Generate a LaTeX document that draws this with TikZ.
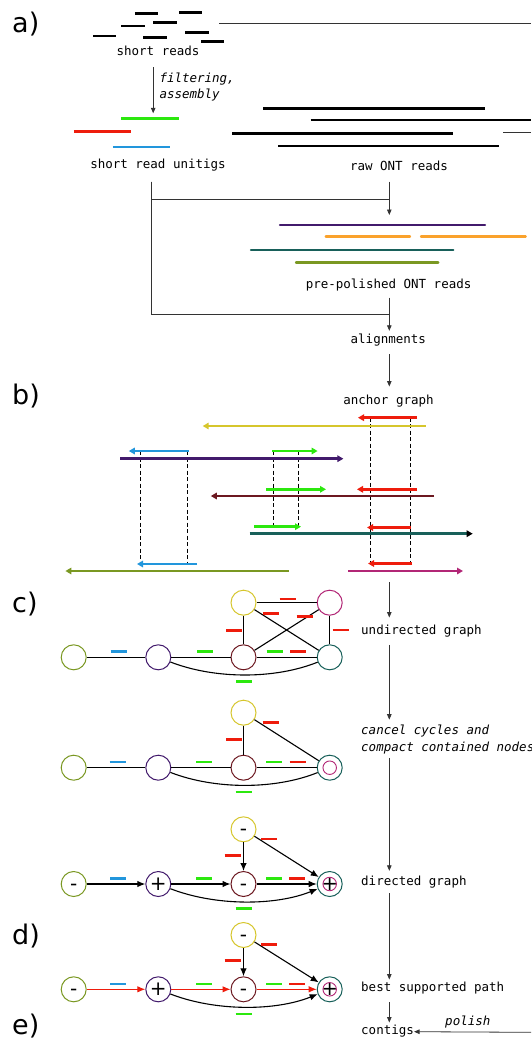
\documentclass[tikz,border=0pt]{standalone}
\usepackage{fontspec}
\setmainfont{DejaVu Sans}
\newfontfamily\monof{DejaVu Sans Mono}
\usetikzlibrary{arrows.meta,calc}
\definecolor{cred}{RGB}{238,28,12}
\definecolor{cgreen}{RGB}{44,232,14}
\definecolor{cblue}{RGB}{34,150,220}
\definecolor{cyellow}{RGB}{214,198,44}
\definecolor{cpurple}{RGB}{66,26,108}
\definecolor{cmaroon}{RGB}{108,24,32}
\definecolor{cteal}{RGB}{24,96,90}
\definecolor{colive}{RGB}{122,152,34}
\definecolor{cmagenta}{RGB}{178,38,118}
\definecolor{corange}{RGB}{250,162,44}
\newcommand{\gmark}[3]{\draw[mk,#1] (#2,#3) ++(-8,0) -- ++(16,0);}
\begin{document}
\begin{tikzpicture}[x=1pt,y=-1pt,
  lbl/.style={font=\monof\fontsize{12.5}{16.7}\selectfont, inner xsep=0pt, inner ysep=3pt, text height=9pt, text depth=3pt},
  ilbl/.style={lbl, font=\monof\itshape\fontsize{12.5}{16.7}\selectfont},
  mlbl/.style={font=\monof\itshape\fontsize{12.5}{16.7}\selectfont, inner xsep=0pt, inner ysep=3pt, align=left},
  panel/.style={font=\fontsize{27}{30}\selectfont, inner sep=0pt, anchor=base west},
  flow/.style={draw=black!80, line width=0.8pt, -{Triangle[length=5.5pt,width=4.5pt]}},
  link/.style={draw=black!80, line width=0.8pt},
  sread/.style={line width=2.7pt},
  pread/.style={line width=2.3pt, line cap=round},
  aread/.style={line width=2.6pt, -{Triangle[length=6pt,width=6.5pt]}},
  guide/.style={draw=black, line width=1pt, dash pattern=on 4pt off 2.5pt},
  gn/.style={circle, draw, line width=1pt, minimum size=25pt, inner sep=0pt, font=\fontsize{20}{20}\selectfont, text height=12pt, text depth=0pt},
  inn/.style={circle, draw=cmagenta, line width=0.9pt, minimum size=13.5pt, inner sep=0pt},
  edge/.style={draw=black, line width=1.1pt},
  dedge/.style={edge, -{Latex[length=8pt,width=6.5pt]}},
  pedge/.style={draw=cred, line width=1pt, -{Latex[length=8pt,width=6.5pt]}},
  mk/.style={line width=2.6pt}
]
\useasboundingbox (0,0) rectangle (531,1041);
\fill[white] (0,0) rectangle (531,1041);

% panel labels
\node[panel] (pa) at (12,33) {a)};
\node[panel] (pb) at (12,404) {b)};
\node[panel] (pc) at (12,612) {c)};
\node[panel] (pd) at (12,944) {d)};
\node[panel] (pe) at (12,1034.5) {e)};

% ---------- a) short reads
\draw[sread] (134.9,13.3) -- (158.3,13.3);
\draw[sread] (179,12.7) -- (202.4,12.7);
\draw[sread] (121.4,26) -- (144.7,26);
\draw[sread] (153.2,22.7) -- (177,22.7);
\draw[sread] (93.2,36) -- (116.3,36);
\draw[sread] (143.4,37.3) -- (167.1,37.3);
\draw[sread] (185.4,32.7) -- (208.5,32.7);
\draw[sread] (201.4,41.7) -- (224.4,41.7);
\node[lbl] (sr) at (158,52.7) {short reads};
\coordinate (srR) at (219,23.7);
\coordinate (edgeA) at (531,23.7);
\draw[link] (srR) -- (edgeA);

% unitigs
\draw[sread, cgreen] (121.4,118.3) -- (179,118.3);
\draw[sread, cred] (73.9,131.7) -- (131.2,131.7);
\draw[sread, cblue] (112.9,147) -- (170.2,147);
\node[lbl] (sru) at (158,165.7) {short read unitigs};
\coordinate (utop) at (153.2,113.3);
\draw[flow, shorten <=5.6pt] (sr.south -| utop) -- (utop);
\node[mlbl, anchor=west] (filt) at (159.3,87) {filtering,\\assembly};

% raw ONT reads
\draw[sread] (263,108.3) -- (485,108.3);
\draw[sread] (310.7,120) -- (531,120);
\draw[sread] (232.3,133.3) -- (453.3,133.3);
\draw[sread] (278,146) -- (499,146);
\coordinate (ontR) at (503,132.7);
\coordinate (edgeB) at (531,132.7);
\draw[link] (ontR) -- (edgeB);
\node[lbl] (raw) at (399,167.7) {raw ONT reads};

% bracket and flow
\coordinate (col) at (389.3,0);
\coordinate (bl) at (151.5,0);
\coordinate (j1) at (389.3,199.3);
\coordinate (j2) at (389.3,314);
\coordinate (pptop) at (389.3,215);
\draw[link, shorten <=6.6pt] (sru.south -| bl) |- (j1);
\draw[link, shorten <=6.6pt] (sru.south -| bl) |- (j2);
\draw[flow, shorten <=4.6pt] (raw.south -| col) -- (pptop);

% pre-polished reads
\draw[pread, cpurple] (280,224.7) -- (485,224.7);
\draw[pread, corange] (325.7,236.5) -- (410,236.5);
\draw[pread, corange] (421,236.5) -- (525.7,236.5);
\draw[pread, cteal] (251,250.3) -- (453.3,250.3);
\draw[pread, colive] (296,262.5) -- (438.3,262.5);
\node[lbl] (prep) at (388.6,285) {pre-polished ONT reads};
\node[lbl] (align) at (388.3,340) {alignments};
\draw[flow, shorten <=3.3pt] (prep.south -| col) -- (align.north -| col);

% ---------- b) anchor graph
\node[lbl] (anch) at (388.5,401.7) {anchor graph};
\draw[flow, shorten <=5pt, shorten >=6pt] (align.south -| col) -- (anch.north -| col);

\draw[guide] (140.3,451) -- (140.3,564);
\draw[guide] (187.8,451) -- (187.8,564);
\draw[guide] (273,451) -- (273,526.7);
\draw[guide] (298,451) -- (298,526.7);
\draw[guide] (370,417.7) -- (370,563.5);
\draw[guide] (410,417.7) -- (410,563.5);

\draw[aread, cred] (417,417.7) -- (358,417.7);
\draw[aread, cyellow] (425.8,426) -- (202.7,426);
\draw[aread, cblue] (188.5,451) -- (128.8,451);
\draw[aread, cgreen] (272,451) -- (317.6,451);
\draw[aread, cpurple] (120,458.7) -- (343.4,458.7);
\draw[aread, cgreen] (266.4,489.3) -- (326,489.3);
\draw[aread, cred] (417,489.3) -- (357,489.3);
\draw[aread, cmaroon] (434,496) -- (210.8,496);
\draw[aread, cgreen] (254,526.7) -- (301,526.7);
\draw[aread, cred] (411,527.5) -- (367,527.5);
\draw[line width=2.6pt, cteal, -{Triangle[length=6pt,width=6.5pt,color=black]}] (249.5,533.7) -- (472.7,533.7);
\draw[aread, cblue] (197,564) -- (137,564);
\draw[aread, cred] (412,563.5) -- (368,563.5);
\draw[aread, colive] (288.5,571) -- (65.4,571);
\draw[aread, cmagenta] (348,571) -- (463,571);

% ---------- c) right column labels
\coordinate (agb) at (389.3,582);
\node[lbl, anchor=west] (und) at (361,631) {undirected graph};
\draw[flow, shorten >=4.3pt] (agb) -- (und.north -| col);
\node[mlbl, anchor=west] (canc) at (361,739.3) {cancel cycles and\\compact contained nodes};
\draw[flow, shorten <=4.7pt, shorten >=2pt] (und.south -| col) -- (canc.north -| col);
\node[lbl, anchor=west] (dirg) at (361,882.3) {directed graph};
\draw[flow, shorten <=1pt, shorten >=2.3pt] (canc.south -| col) -- (dirg.north -| col);
\node[lbl, anchor=west] (best) at (361,988.7) {best supported path};
\draw[flow, shorten <=1.7pt] (dirg.south -| col) -- (best.north -| col);
\node[lbl, anchor=west] (cont) at (361,1031.7) {contigs};
\draw[flow, shorten <=4.3pt] (best.south -| col) -- (cont.north -| col);
\node[ilbl] (pol) at (467.8,1022.3) {polish};
\coordinate (polR) at (531,1032.3);
\draw[flow] (polR) -- (cont.east);

% ---------- undirected graph
\begin{scope}[shift={(0,657.3)}]
\node[gn, draw=colive] (u-o) at (73.7,0) {};
\node[gn, draw=cpurple] (u-p) at (158.3,0) {};
\node[gn, draw=cmaroon] (u-m) at (243.5,0) {};
\node[gn, draw=cteal] (u-t) at (329.7,0) {};
\node[gn, draw=cyellow] (u-y) at (243.5,-54.6) {};
\node[gn, draw=cmagenta] (u-g) at (329.7,-54.6) {};
\draw[edge] (u-o) -- (u-p);
\draw[edge] (u-p) -- (u-m);
\draw[edge] (u-m) -- (u-t);
\draw[edge] (u-p) .. controls (215,22) and (275,22) .. (u-t);
\draw[edge] (u-y) -- (u-g);
\draw[edge] (u-y) -- (u-m);
\draw[edge] (u-y) -- (u-t);
\draw[edge] (u-g) -- (u-m);
\draw[edge] (u-g) -- (u-t);
\gmark{cblue}{118.5}{-5.6}
\gmark{cgreen}{205}{-5.6}
\gmark{cgreen}{274.5}{-5.6}
\gmark{cred}{298}{-5.6}
\gmark{cgreen}{244}{24.4}
\gmark{cred}{234}{-27}
\gmark{cred}{270.5}{-44}
\gmark{cred}{304.5}{-40.6}
\gmark{cred}{287.5}{-58.3}
\gmark{cred}{340.7}{-27.3}
\end{scope}

% ---------- cancel cycles graph
\begin{scope}[shift={(0,767.7)}]
\node[gn, draw=colive] (c-o) at (73.7,0) {};
\node[gn, draw=cpurple] (c-p) at (158.3,0) {};
\node[gn, draw=cmaroon] (c-m) at (243.5,0) {};
\node[gn, draw=cteal] (c-t) at (329.7,0) {};
\node[inn] (c-ti) at (c-t) {};
\node[gn, draw=cyellow] (c-y) at (243.5,-55) {};
\draw[edge] (c-o) -- (c-p);
\draw[edge] (c-p) -- (c-m);
\draw[edge] (c-m) -- (c-t);
\draw[edge] (c-p) .. controls (215,22) and (275,22) .. (c-t);
\draw[edge] (c-y) -- (c-m);
\draw[edge] (c-y) -- (c-t);
\gmark{cblue}{117.5}{-5.7}
\gmark{cgreen}{204}{-5.7}
\gmark{cgreen}{274}{-5.7}
\gmark{cred}{297.5}{-5.7}
\gmark{cgreen}{243.5}{24.3}
\gmark{cred}{234}{-28.4}
\gmark{cred}{270.5}{-45}
\end{scope}

% ---------- directed graph
\begin{scope}[shift={(0,884)}]
\node[gn, draw=colive] (d-o) at (73.7,0) {-};
\node[gn, draw=cpurple] (d-p) at (158.3,0) {+};
\node[gn, draw=cmaroon] (d-m) at (243.5,0) {-};
\node[gn, draw=cteal] (d-t) at (329.7,0) {+};
\node[inn] (d-ti) at (d-t) {};
\node[gn, draw=cyellow] (d-y) at (243.5,-54.7) {-};
\draw[dedge] (d-o) -- (d-p);
\draw[dedge] (d-p) -- (d-m);
\draw[dedge] (d-m) -- (d-t);
\draw[dedge] (d-p) .. controls (215,22) and (275,22) .. (d-t);
\draw[dedge] (d-y) -- (d-m);
\draw[dedge] (d-y) -- (d-t);
\gmark{cblue}{118.3}{-5.3}
\gmark{cgreen}{204.3}{-5.3}
\gmark{cgreen}{274}{-5.3}
\gmark{cred}{297.3}{-5.3}
\gmark{cgreen}{243.5}{24.7}
\gmark{cred}{232.7}{-28.7}
\gmark{cred}{269.3}{-45}
\end{scope}

% ---------- best supported path
\begin{scope}[shift={(0,989.3)}]
\node[gn, draw=colive] (b-o) at (73.7,0) {-};
\node[gn, draw=cpurple] (b-p) at (158.3,0) {+};
\node[gn, draw=cmaroon] (b-m) at (243.5,0) {-};
\node[gn, draw=cteal] (b-t) at (329.7,0) {+};
\node[inn] (b-ti) at (b-t) {};
\node[gn, draw=cyellow] (b-y) at (243.5,-54.3) {-};
\draw[pedge] (b-o) -- (b-p);
\draw[pedge] (b-p) -- (b-m);
\draw[pedge] (b-m) -- (b-t);
\draw[dedge] (b-p) .. controls (215,22) and (275,22) .. (b-t);
\draw[dedge] (b-y) -- (b-m);
\draw[dedge] (b-y) -- (b-t);
\gmark{cblue}{118.3}{-5.3}
\gmark{cgreen}{204.3}{-5.3}
\gmark{cgreen}{274}{-5.3}
\gmark{cred}{297.3}{-5.3}
\gmark{cgreen}{243.5}{24.7}
\gmark{cred}{232.7}{-28.7}
\gmark{cred}{269.3}{-45}
\end{scope}
\end{tikzpicture}
\end{document}
